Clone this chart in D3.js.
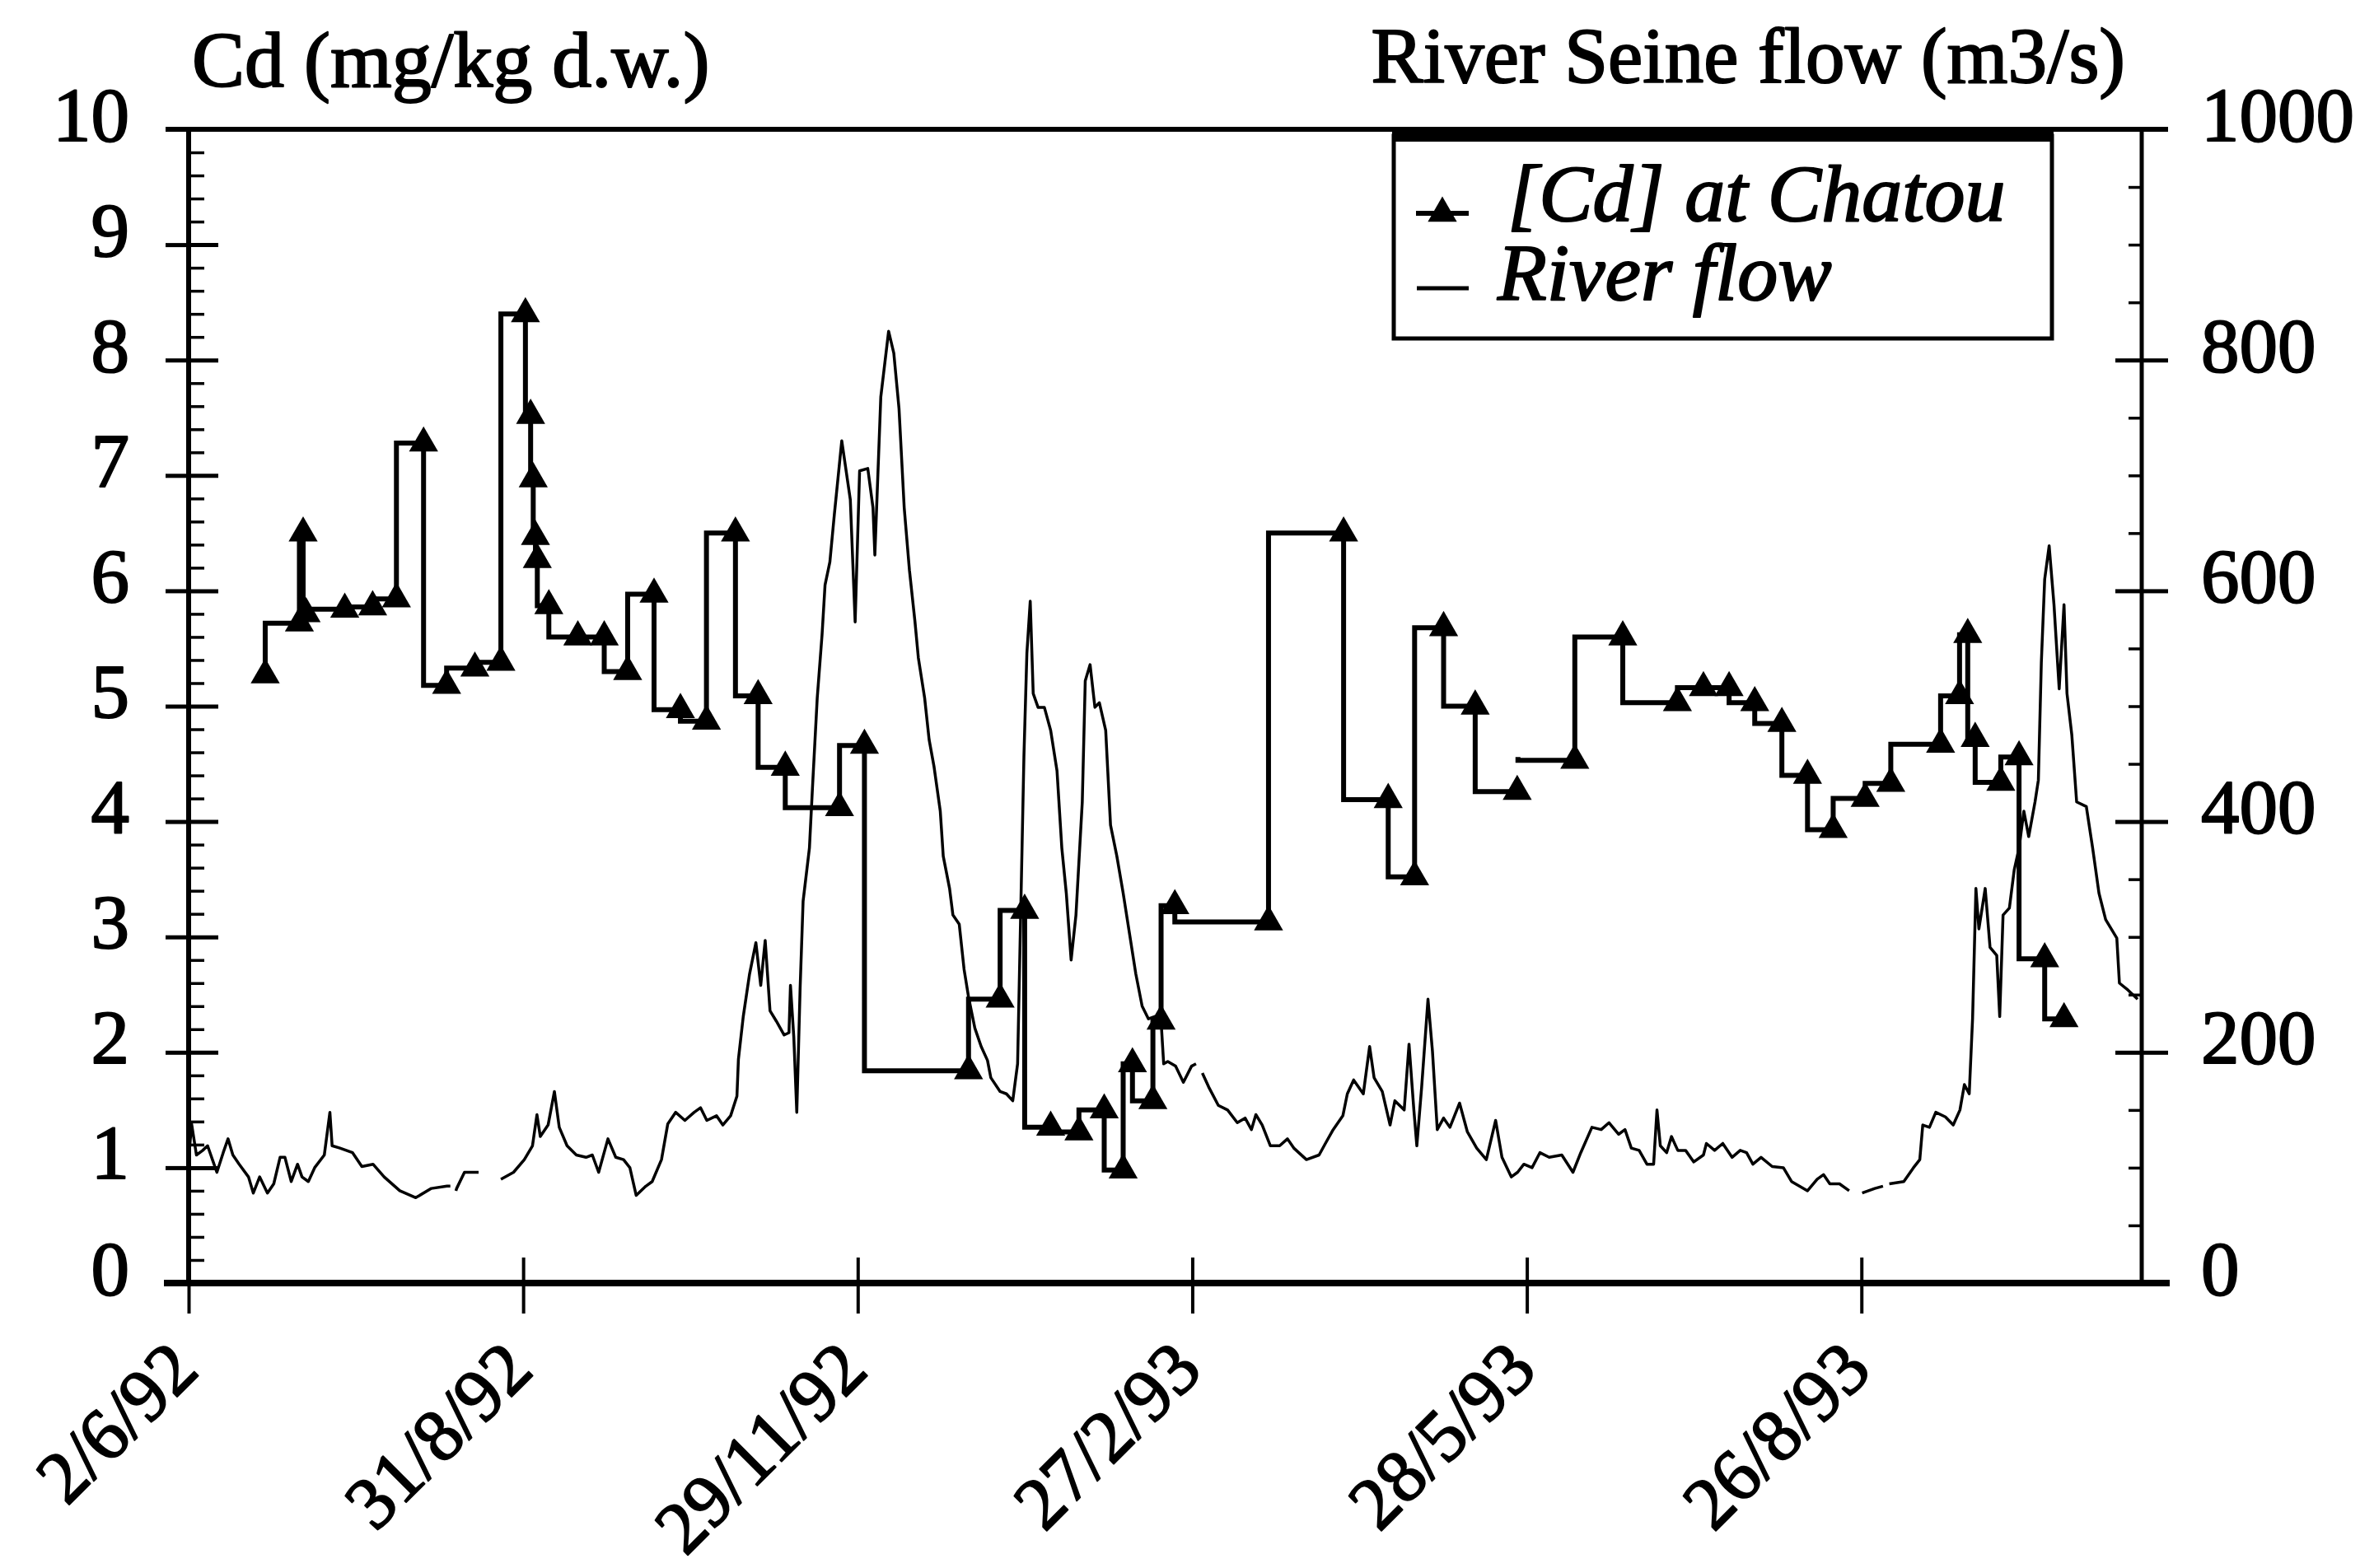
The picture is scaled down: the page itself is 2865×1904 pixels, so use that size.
<!DOCTYPE html>
<html>
<head>
<meta charset="utf-8">
<script src="https://cdn.jsdelivr.net/npm/d3@7"></script>
<style>
  body { margin: 0; background: #fff; }
  text { font-family: "Liberation Serif", "Times New Roman", serif; fill: #000; stroke: #000; stroke-width: 2px; stroke-linejoin: round; }
</style>
</head>
<body>
<svg id="chart" width="2865" height="1904"></svg>
<script>
/* Data: days after 2/6/92 */
// [Cd] at Chatou (mg/kg d.w.), null = sampling interrupted
var cdDay = [20.6, 29.8, 30.8, 31.6, 42.0, 49.5, 55.9, 63.2, 69.4, 77.0,
             84.0, 90.6, 92.0, 92.7, 93.3, 93.8, 96.9, 104.7, 111.8, 118.1,
             125.2, 132.3, 139.3, 147.1, 153.2, 160.5, 175.1, 181.8, 209.8, 218.3,
             224.9, 231.9, 239.5, 246.3, 251.4, 253.9, 259.4, 261.6, 265.3, 290.5,
             310.7, 322.7, 329.8, 337.6, 346.1, 357.4, 357.5, 357.6, 372.9, 385.8,
             400.5, 407.5, 414.4, 421.3, 428.6, 435.5, 442.4, 451.0, 457.9, 471.3,
             476.4, 478.6, 480.6, 487.5, 492.4, 499.3, 504.5];
var cdValue = [5.27, 5.72, 6.50, 5.80, 5.84, 5.86, 5.93, 7.28, 5.18, 5.33,
               5.38, 8.40, 7.52, 6.97, 6.47, 6.27, 5.87, 5.60, 5.60, 5.30,
               5.97, 4.97, 4.87, 6.50, 5.09, 4.47, 4.12, 4.66, 1.84, 2.46,
               3.23, 1.35, 1.31, 1.50, 0.98, 1.90, 1.58, 2.27, 3.27, 3.13,
               6.50, 4.19, 3.52, 5.68, 5.00, 4.26, null, 4.56, 4.53, 5.60,
               5.03, 5.16, 5.16, 5.03, 4.85, 4.40, 3.93, 4.20, 4.33, 4.67,
               5.09, 5.62, 4.72, 4.34, 4.56, 2.81, 2.29];

// River Seine flow (m3/s), null = missing days
var flowDay = [0, 0.8, 2.1, 3.8, 5.1, 6.4, 7.6, 9.3, 10.6, 11.9, 13.6, 16.1, 17.4, 19.1, 21.2, 22.9,
  24.6, 25.9, 27.6, 29.3, 30.5, 32.2, 33.9, 36.5, 38.0, 38.6, 40.7, 44.1, 46.6, 49.6, 52.6, 56.8,
  61.1, 65.3, 69.5, 70.4, 71.2, 71.9, 72.1, 74.2, 78.0, 81.0, 84.0, 87.4, 90.3, 92.5, 93.7, 94.6,
  96.7, 98.4, 99.7, 101.8, 104.3, 106.9, 108.6, 110.3, 112.8, 114.9, 117.0, 118.7, 120.4, 123.0,
  124.7, 127.2, 128.9, 131.0, 133.5, 136.0, 137.7, 139.4, 142.0, 143.7, 145.8, 147.5, 147.9, 149.2,
  150.9, 152.6, 153.9, 155.1, 156.4, 158.1, 160.2, 161.5, 161.9, 162.8, 163.6, 164.5, 165.3, 167.0,
  167.8, 169.1, 170.4, 171.2, 172.5, 173.7, 175.7, 178.0, 179.3, 180.5, 182.7, 184.1, 184.6, 186.2,
  188.3, 189.7, 191.1, 192.5, 193.9, 195.4, 196.3, 198.0, 199.2, 200.5, 202.2, 203.0, 204.7, 205.6,
  207.3, 208.6, 209.8, 211.5, 213.2, 214.9, 215.8, 218.3, 220.0, 221.7, 223.0, 223.8, 224.7, 225.5,
  226.4, 227.2, 228.5, 230.2, 231.9, 233.6, 234.9, 236.1, 237.4, 238.7, 240.4, 241.2, 242.5, 243.8,
  245.0, 246.7, 248.0, 249.7, 251.4, 253.1, 254.8, 256.5, 258.2, 259.9, 261.6, 262.3, 263.4, 265.5,
  267.6, 269.8, 271.0, 271.8, 272.7, 274.4, 277.0, 279.5, 282.1, 284.2, 285.9, 287.1, 288.8, 291.0,
  293.5, 295.6, 297.3, 300.7, 304.1, 305.8, 307.9, 310.5, 311.7, 313.4, 316.0, 317.7, 318.9, 321.1,
  323.2, 324.5, 327.0, 328.3, 329.6, 330.4, 331.7, 333.4, 334.6, 335.9, 337.6, 339.3, 341.9, 344.0,
  346.5, 349.1, 351.6, 353.3, 355.8, 357.5, 359.2, 361.4, 363.5, 366.0, 369.4, 372.4, 374.5, 377.5,
  380.0, 382.1, 384.7, 386.4, 388.1, 390.2, 392.3, 394.1, 395.0, 395.9, 397.6, 398.9, 400.6, 402.7,
  404.9, 407.5, 408.3, 410.5, 412.7, 415.2, 417.4, 419.1, 420.8, 423.0, 426.0, 429.0, 431.2, 435.5,
  438.1, 439.8, 441.5, 444.1, 446.7, 448.5, 450.2, 453.6, 455.8, 456.6, 457.5, 461.4, 464.0, 465.7,
  466.5, 468.3, 470.0, 472.6, 474.7, 476.5, 477.7, 479.0, 479.9, 480.8, 481.6, 483.3, 484.6, 486.4,
  487.2, 488.1, 489.8, 491.1, 492.4, 493.7, 495.0, 496.7, 497.6, 498.4, 499.3, 500.5, 501.8, 503.2,
  504.5, 505.3, 506.6, 507.9, 510.5, 512.2, 513.9, 515.7, 518.7, 519.4, 521.7, 524.3];
var flowValue = [107, 138, 111, 115, 119, 107, 96, 113, 125, 111, 103, 92, 78, 92, 78, 86,
  109, 109, 88, 103, 92, 88, 100, 111, 148, 119, 117, 113, 101, 103, 92, 80,
  74, 82, 84, 84, null, 80, 82, 96, 96, null, 90, 96, 107, 119, 146, 127,
  137, 166, 135, 119, 111, 109, 111, 96, 125, 109, 107, 100, 76, 84,
  88, 107, 138, 148, 141, 148, 152, 141, 145, 137, 145, 162, 194, 231,
  268, 295, 258, 297, 236, 227, 215, 217, 258, 213, 148, 256, 331, 377,
  428, 507, 562, 605, 625, 666, 730, 679, 573, 704, 706, 672, 631, 768,
  825, 806, 758, 672, 618, 573, 542, 507, 471, 448, 409, 370, 342, 319,
  311, 272, 248, 221, 205, 193, 178, 166, 164, 158, 190, 315, 456, 546,
  591, 511, 499, 499, 479, 444, 377, 338, 280, 319, 417, 522, 536, 499,
  503, 479, 397, 370, 338, 303, 268, 240, 229, 231, 227, 190, 192, 188,
  174, 188, 190, null, 182, 170, 154, 150, 139, 143, 133, 146, 137, 119,
  119, 125, 117, 107, 111, 121, 133, 145, 164, 176, 164, 205, 178, 166,
  137, 158, 150, 207, 150, 119, 170, 246, 201, 133, 143, 135, 156, 131,
  117, 107, 141, 109, 92, 96, 103, 100, 113, 109, 111, 96, 113, 135,
  133, 139, 129, 133, 117, 115, 103, 103, 150, 119, 113, 127, 115, 115,
  105, 111, 121, 115, 121, 109, 115, 113, 103, 109, 101, 100, 88, 80,
  90, 94, 86, 86, 80, null, 78, 82, 84, null, 86, 88, 100, 107,
  137, 135, 148, 144, 137, 150, 172, 164, 229, 342, 307, 342, 291, 284,
  231, 319, 325, 358, 377, 409, 387, 417, 436, 538, 610, 639, 588, 515,
  588, 511, 475, 417, 413, 377, 338, 315, 299, 260, 254, 246];

var cdTicks = [0, 1, 2, 3, 4, 5, 6, 7, 8, 9, 10];
var flowTicks = [0, 200, 400, 600, 800, 1000];
var dateLabels = ["2/6/92", "31/8/92", "29/11/92", "27/2/93", "28/5/93", "26/8/93"];

/* Scales */
var svg = d3.select("#chart");
var serif = "Liberation Serif, Times New Roman, serif";
var start = Date.UTC(1992, 5, 2);
var toDate = function(d) { return new Date(start + d * 864e5); };

var x = d3.scaleUtc().domain([toDate(0), toDate(525.4)]).range([229, 2600]);
var yCd = d3.scaleLinear().domain([0, 10]).range([1558, 157]);
var yFlow = d3.scaleLinear().domain([0, 1000]).range([1558, 157]);

svg.append("rect").attr("width", 2865).attr("height", 1904).attr("fill", "#fff");

var tickFont = 93;

function cleanAxis(g, w) {
  g.attr("font-family", serif).attr("font-size", null);
  g.select(".domain").remove();
  g.selectAll(".tick line").attr("stroke", "#000").attr("stroke-width", w);
}

/* Left axis (Cd) */
var gl = svg.append("g").attr("transform", "translate(229,0)")
  .call(d3.axisLeft(yCd).tickValues(cdTicks).tickFormat(d3.format("d")).tickSize(28).tickSizeOuter(0).tickPadding(44));
cleanAxis(gl, 5);
gl.selectAll("text").attr("dy", 13).style("font-size", tickFont + "px");

svg.append("g").attr("transform", "translate(229,0)")
  .call(d3.axisRight(yCd).tickValues(cdTicks).tickSize(36).tickSizeOuter(0).tickFormat(""))
  .call(cleanAxis, 5);
svg.append("g").attr("transform", "translate(229,0)")
  .call(d3.axisRight(yCd).tickValues(d3.range(0, 10.001, 0.2)).tickSize(19).tickSizeOuter(0).tickFormat(""))
  .call(cleanAxis, 3.5);

/* Right axis (flow) */
var gr = svg.append("g").attr("transform", "translate(2600,0)")
  .call(d3.axisRight(yFlow).tickValues(flowTicks).tickFormat(d3.format("d")).tickSize(32).tickSizeOuter(0).tickPadding(40));
cleanAxis(gr, 5);
gr.selectAll("text").attr("dy", 13).style("font-size", tickFont + "px");

svg.append("g").attr("transform", "translate(2600,0)")
  .call(d3.axisLeft(yFlow).tickValues(flowTicks).tickSize(32).tickSizeOuter(0).tickFormat(""))
  .call(cleanAxis, 5);
svg.append("g").attr("transform", "translate(2600,0)")
  .call(d3.axisLeft(yFlow).tickValues(d3.range(0, 1001, 50)).tickSize(16).tickSizeOuter(0).tickFormat(""))
  .call(cleanAxis, 3.5);

/* Bottom axis (dates) */
var parseDate = d3.utcParse("%d/%m/%y");
var tickDates = dateLabels.map(parseDate);

svg.append("g").attr("transform", "translate(0,1558)")
  .call(d3.axisBottom(x).tickValues(tickDates).tickSize(37).tickSizeOuter(0).tickFormat(""))
  .call(cleanAxis, 4);
svg.append("g").attr("transform", "translate(0,1558)")
  .call(d3.axisTop(x).tickValues(tickDates).tickSize(31).tickSizeOuter(0).tickFormat(""))
  .call(cleanAxis, 4);

svg.append("g").selectAll("text")
  .data(dateLabels)
  .enter()
  .append("text")
    .attr("text-anchor", "end")
    .attr("font-family", serif)
    .attr("transform", function(d) { return "translate(" + (x(parseDate(d)) + 15) + ",1667) rotate(-45)"; })
    .style("font-size", "90px")
    .text(function(d) { return d; });

/* Frame */
var frame = svg.append("g").attr("stroke", "#000");
frame.append("line").attr("x1", 229).attr("x2", 229).attr("y1", 157).attr("y2", 1560).attr("stroke-width", 6);
frame.append("line").attr("x1", 2600).attr("x2", 2600).attr("y1", 157).attr("y2", 1560).attr("stroke-width", 5);
frame.append("line").attr("x1", 201).attr("x2", 2632).attr("y1", 157).attr("y2", 157).attr("stroke-width", 6);
frame.append("line").attr("x1", 199).attr("x2", 2634).attr("y1", 1558).attr("y2", 1558).attr("stroke-width", 8);

/* River flow line */
var flowData = flowDay.map(function(d, i) { return { date: toDate(d), v: flowValue[i] }; });
svg.append("path")
  .datum(flowData)
  .attr("fill", "none")
  .attr("stroke", "#000")
  .attr("stroke-width", 3.5)
  .attr("stroke-linejoin", "round")
  .attr("d", d3.line()
    .defined(function(d) { return d.v != null; })
    .x(function(d) { return x(d.date); })
    .y(function(d) { return yFlow(d.v); }));

/* Cd step line + markers */
var cdData = cdDay.map(function(d, i) {
  return { date: toDate(d), v: cdValue[i], mark: cdValue[i] != null && (i == 0 || cdValue[i - 1] != null) };
});
svg.append("path")
  .datum(cdData)
  .attr("fill", "none")
  .attr("stroke", "#000")
  .attr("stroke-width", 6)
  .attr("d", d3.line()
    .defined(function(d) { return d.v != null; })
    .curve(d3.curveStepBefore)
    .x(function(d) { return x(d.date); })
    .y(function(d) { return yCd(d.v); }));

var tri = d3.symbol().type(d3.symbolTriangle).size(540);
svg.append("g").selectAll("path")
  .data(cdData.filter(function(d) { return d.mark; }))
  .enter()
  .append("path")
    .attr("d", tri)
    .attr("fill", "#000")
    .attr("transform", function(d) { return "translate(" + x(d.date) + "," + yCd(d.v) + ")"; });

/* Titles */
svg.append("text").attr("x", 233).attr("y", 105).attr("font-family", serif).style("font-size", "96px").text("Cd (mg/kg d.w.)");
svg.append("text").attr("x", 2580).attr("y", 100).attr("font-family", serif).attr("text-anchor", "end").style("font-size", "95px").text("River Seine flow (m3/s)");

/* Legend */
var lg = svg.append("g");
lg.append("rect").attr("x", 1692).attr("y", 165).attr("width", 799).attr("height", 246)
  .attr("fill", "#fff").attr("stroke", "#000").attr("stroke-width", 5);
lg.append("rect").attr("x", 1690).attr("y", 154).attr("width", 803).attr("height", 18).attr("fill", "#000");
lg.append("line").attr("x1", 1719).attr("x2", 1783).attr("y1", 259).attr("y2", 259).attr("stroke", "#000").attr("stroke-width", 6);
lg.append("path").attr("d", tri).attr("fill", "#000").attr("transform", "translate(1751,259)");
lg.append("line").attr("x1", 1720).attr("x2", 1783).attr("y1", 350).attr("y2", 350).attr("stroke", "#000").attr("stroke-width", 5);
lg.append("text").attr("x", 1830).attr("y", 268).attr("font-family", serif).style("font-size", "98px").style("font-style", "italic").text("[Cd] at Chatou");
lg.append("text").attr("x", 1818).attr("y", 364).attr("font-family", serif).style("font-size", "98px").style("font-style", "italic").text("River flow");
</script>
</body>
</html>
